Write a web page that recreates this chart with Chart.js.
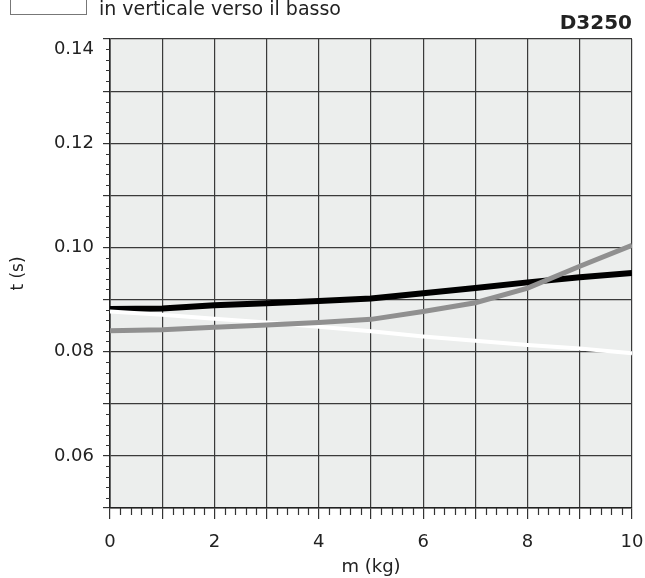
<!DOCTYPE html>
<html>
<head>
<meta charset="utf-8">
<title>D3250 t(m)</title>
<script src="https://cdn.jsdelivr.net/npm/chart.js@4.4.1/dist/chart.umd.min.js"></script>
<style>
  html, body { margin: 0; padding: 0; background: #fff; }
  #wrap { position: relative; width: 645px; height: 578px; }
</style>
</head>
<body>
<div id="wrap"><canvas id="chart" width="645" height="578"></canvas></div>
<script>
"use strict";

// ── Data ──────────────────────────────────────────────────────────
const MASS      = [0, 1, 2, 3, 4, 5, 6, 7, 8, 9, 10];                 // m (kg)
const T_BLACK   = [0.0882, 0.0883, 0.0889, 0.0893, 0.0897, 0.0902, 0.0912, 0.0922, 0.0933, 0.0943, 0.0951];
const T_GRAY    = [0.0840, 0.0842, 0.0847, 0.0851, 0.0856, 0.0862, 0.0877, 0.0894, 0.0922, 0.0964, 0.1004];
const T_WHITE   = [0.0877, 0.0871, 0.0863, 0.0856, 0.0848, 0.0839, 0.0829, 0.0821, 0.0813, 0.0806, 0.0797];
const X_LABELS  = [0, 2, 4, 6, 8, 10];
const Y_LABELS  = [0.06, 0.08, 0.10, 0.12, 0.14];

const FONT      = "'DejaVu Sans', sans-serif";
const PLOT_BG   = "#eceeed";
const GRID      = "#3a3a3a";

const pts = ys => MASS.map((m, i) => ({ x: m, y: ys[i] }));

// ── Plugin: plot background, minor ticks, header ──────────────────
const decor = {
  id: "decor",
  beforeDraw(chart) {
    const { ctx, chartArea: a } = chart;
    ctx.save();
    ctx.fillStyle = PLOT_BG;
    ctx.fillRect(a.left, a.top, a.right - a.left, a.bottom - a.top);
    ctx.restore();
  },
  afterDraw(chart) {
    const { ctx, chartArea: a } = chart;
    const xs = chart.scales.x, ys = chart.scales.y;
    ctx.save();
    ctx.strokeStyle = "#333";
    ctx.lineWidth = 1.2;
    ctx.beginPath();
    // minor x ticks every 0.2 kg, below the axis
    for (let k = 0; k <= 50; k++) {
      if (k % 5 === 0) continue;
      const px = Math.round(xs.getPixelForValue(k * 0.2)) + 0.5;
      ctx.moveTo(px, a.bottom);
      ctx.lineTo(px, a.bottom + 7);
    }
    // minor y ticks every 0.002 s, left of the axis
    for (let k = 25; k <= 70; k++) {
      if (k % 5 === 0) continue;
      const py = Math.round(ys.getPixelForValue(k * 0.002)) + 0.5;
      ctx.moveTo(a.left, py);
      ctx.lineTo(a.left - 4, py);
    }
    ctx.stroke();

    // header: empty legend box + caption, code at right
    ctx.strokeStyle = "#777";
    ctx.lineWidth = 1;
    ctx.strokeRect(10.5, -2.5, 76, 17);
    ctx.fillStyle = "#222";
    ctx.textBaseline = "alphabetic";
    ctx.font = "19px " + FONT;
    ctx.textAlign = "left";
    ctx.fillText("in verticale verso il basso", 99, 14.5);
    ctx.font = "bold 20px " + FONT;
    ctx.textAlign = "right";
    ctx.fillText("D3250", 632, 28.5);
    ctx.restore();
  }
};

// ── Chart ─────────────────────────────────────────────────────────
new Chart(document.getElementById("chart"), {
  type: "line",
  data: {
    datasets: [
      { label: "grey",  data: pts(T_GRAY),  borderColor: "#909090", borderWidth: 5, order: 0 },
      { label: "white", data: pts(T_WHITE), borderColor: "#ffffff", borderWidth: 4, order: 1 },
      { label: "black", data: pts(T_BLACK), borderColor: "#000000", borderWidth: 6, order: 2 },
    ]
  },
  options: {
    responsive: false,
    animation: false,
    layout: { padding: { top: 39, right: 13, left: 0, bottom: 0 } },
    elements: { point: { radius: 0 }, line: { tension: 0, borderCapStyle: "butt" } },
    plugins: { legend: { display: false }, tooltip: { enabled: false } },
    scales: {
      x: {
        type: "linear", min: 0, max: 10,
        afterFit: s => { s.height = 70; s.paddingLeft = 0; s.paddingRight = 0; },
        grid: { color: GRID, lineWidth: 1.2, tickLength: 11, tickColor: "#333" },
        border: { color: "#222", width: 1.6 },
        ticks: {
          stepSize: 1, autoSkip: false, maxRotation: 0, padding: 13,
          color: "#222", font: { family: FONT, size: 18 },
          callback: v => X_LABELS.includes(v) ? String(v) : ""
        },
        title: { display: true, text: "m (kg)", color: "#222",
                 font: { family: FONT, size: 18 }, padding: { top: 0, bottom: 0 } }
      },
      y: {
        type: "linear", min: 0.05, max: 0.14,
        afterFit: s => { s.width = 110; s.paddingTop = 0; s.paddingBottom = 0; },
        grid: { color: GRID, lineWidth: 1.2, tickLength: 7, tickColor: "#333" },
        border: { color: "#222", width: 1.6 },
        ticks: {
          stepSize: 0.01, autoSkip: false, padding: 9,
          color: "#222", font: { family: FONT, size: 18 },
          callback: v => {
            const lab = Y_LABELS.find(t => Math.abs(t - v) < 1e-6);
            if (lab === undefined) return "";
            // top label sits just under the frame in the original
            return lab === 0.14 ? ["", lab.toFixed(2)] : lab.toFixed(2);
          }
        },
        title: { display: true, text: "t (s)", color: "#222",
                 font: { family: FONT, size: 17 }, padding: { top: 8, bottom: 0 } }
      }
    }
  },
  plugins: [decor]
});
</script>
</body>
</html>
